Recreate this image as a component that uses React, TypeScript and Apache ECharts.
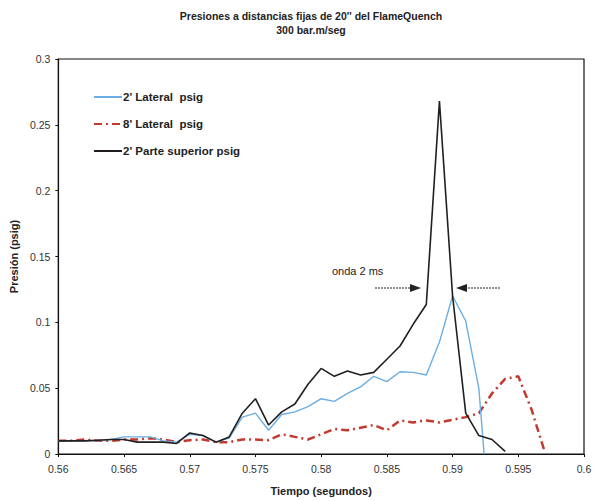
import React, { useEffect, useRef } from "react";
import * as echarts from "echarts";

const times = [
  0.56, 0.561, 0.562, 0.563, 0.564, 0.565, 0.566, 0.567, 0.568, 0.569,
  0.57, 0.571, 0.572, 0.573, 0.574, 0.575, 0.576, 0.577, 0.578, 0.579,
  0.58, 0.581, 0.582, 0.583, 0.584, 0.585, 0.586, 0.587, 0.588, 0.589,
  0.59, 0.591, 0.592, 0.593, 0.594, 0.595, 0.596, 0.597,
];

const lateral2 = [
  0.01, 0.01, 0.01, 0.01, 0.011, 0.013, 0.013, 0.013, 0.01, 0.009,
  0.015, 0.014, 0.009, 0.012, 0.028, 0.031, 0.018, 0.03, 0.032, 0.036,
  0.042, 0.04, 0.046, 0.051, 0.059, 0.055, 0.0625, 0.062, 0.06, 0.085,
  0.12, 0.101, 0.0496,
];
const lateral2EndTime = 0.5924;
const lateral2EndValue = 0;

const lateral8 = [
  0.01, 0.01, 0.011, 0.01, 0.01, 0.011, 0.011, 0.012, 0.011, 0.009,
  0.0105, 0.011, 0.009, 0.009, 0.011, 0.011, 0.0105, 0.015, 0.013, 0.011,
  0.015, 0.019, 0.018, 0.02, 0.022, 0.018, 0.0255, 0.024, 0.0255, 0.024,
  0.026, 0.028, 0.031, 0.046, 0.057, 0.059, 0.034, 0.002,
];

const superior2 = [
  0.01, 0.01, 0.01, 0.0105, 0.011, 0.011, 0.009, 0.009, 0.009, 0.008,
  0.016, 0.014, 0.009, 0.013, 0.031, 0.042, 0.022, 0.032, 0.038, 0.053,
  0.065, 0.059, 0.063, 0.06, 0.062, 0.072, 0.082, 0.0985, 0.1135, 0.268,
  0.12, 0.031, 0.014, 0.011, 0.002,
];

const seriesNames = ["2' Lateral  psig", "8' Lateral  psig", "2' Parte superior psig"];
const xTicks = ["0.56", "0.565", "0.57", "0.575", "0.58", "0.585", "0.59", "0.595", "0.6"];

const pair = (vals: number[]) => vals.map((v, i) => [times[i], v]);

export default function App() {
  const ref = useRef<HTMLDivElement>(null);
  useEffect(() => {
    if (!ref.current) return;
    const chart = echarts.init(ref.current, undefined, { renderer: "svg" });
    const font = "'Liberation Sans', Arial, sans-serif";
    const blueData = pair(lateral2).concat([[lateral2EndTime, lateral2EndValue]]);
    chart.setOption({
      animation: false,
      backgroundColor: "#fff",
      textStyle: { fontFamily: font },
      title: {
        text: "Presiones a distancias fijas de 20'' del FlameQuench\n300 bar.m/seg",
        left: 306,
        textAlign: "center",
        top: 4,
        textStyle: { fontSize: 10.5, fontWeight: "bold", color: "#222", lineHeight: 14, fontFamily: font },
      },
      legend: {
        orient: "vertical",
        left: 88,
        top: 86,
        itemWidth: 28,
        itemHeight: 10,
        itemGap: 15,
        itemStyle: { opacity: 0 },
        data: seriesNames.map((n) => ({ name: n })),
        textStyle: { fontSize: 11.5, fontWeight: "bold", color: "#222", fontFamily: font, padding: [0, 0, 0, -4] },
      },
      grid: {
        left: 52.5,
        right: 16,
        top: 59,
        bottom: 43.5,
        show: true,
        borderColor: "#111",
        borderWidth: 1.2,
        containLabel: false,
      },
      xAxis: {
        type: "value",
        min: 0.56,
        max: 0.6,
        interval: 0.005,
        name: "Tiempo (segundos)",
        nameLocation: "middle",
        nameGap: 31,
        nameTextStyle: { fontSize: 11, fontWeight: "bold", color: "#222", fontFamily: font },
        axisLine: { show: true, lineStyle: { color: "#111", width: 1.2 } },
        axisTick: { show: true, length: 3, lineStyle: { color: "#111" } },
        splitLine: { show: false },
        axisLabel: {
          fontSize: 10.5,
          color: "#333",
          margin: 9,
          formatter: (v: number) => {
            const idx = Math.round((v - 0.56) / 0.005);
            return xTicks[idx] ?? "";
          },
        },
      },
      yAxis: {
        type: "value",
        min: 0,
        max: 0.3,
        interval: 0.05,
        name: "Presión (psig)",
        nameLocation: "middle",
        nameGap: 37,
        nameTextStyle: { fontSize: 11, fontWeight: "bold", color: "#222", fontFamily: font },
        axisLine: { show: true, lineStyle: { color: "#111", width: 1.2 } },
        axisTick: { show: true, length: 3, lineStyle: { color: "#111" } },
        splitLine: { show: false },
        axisLabel: {
          fontSize: 10.5,
          color: "#333",
          margin: 8,
          formatter: (v: number) => String(parseFloat(v.toFixed(3))),
        },
      },
      series: [
        {
          name: seriesNames[0],
          type: "line",
          data: blueData,
          symbol: "none",
          lineStyle: { color: "#6aaee3", width: 1.4 },
          itemStyle: { color: "#6aaee3" },
          z: 2,
        },
        {
          name: seriesNames[1],
          type: "line",
          data: pair(lateral8),
          symbol: "none",
          lineStyle: { color: "#c2392f", width: 2.5, type: [8, 4, 2, 4] },
          itemStyle: { color: "#c2392f" },
          z: 1,
        },
        {
          name: seriesNames[2],
          type: "line",
          data: pair(superior2),
          symbol: "none",
          lineStyle: { color: "#231f20", width: 1.6 },
          itemStyle: { color: "#231f20" },
          z: 3,
        },
      ],
      graphic: [
        {
          type: "text",
          left: 332,
          top: 265,
          style: { text: "onda 2 ms", fontSize: 11, fill: "#222", fontFamily: font },
        },
        {
          type: "line",
          shape: { x1: 375, y1: 288, x2: 412, y2: 288 },
          style: { stroke: "#222", lineWidth: 1, lineDash: [2, 1] },
        },
        {
          type: "polygon",
          shape: { points: [[421, 288], [410, 284], [410, 292]] },
          style: { fill: "#222" },
        },
        {
          type: "line",
          shape: { x1: 465, y1: 288, x2: 501, y2: 288 },
          style: { stroke: "#222", lineWidth: 1, lineDash: [2, 1] },
        },
        {
          type: "polygon",
          shape: { points: [[456, 288], [467, 284], [467, 292]] },
          style: { fill: "#222" },
        },
      ],
    });
    return () => chart.dispose();
  }, []);
  return <div ref={ref} style={{ position: "absolute", left: 0, top: 0, width: 600, height: 501 }} />;
}
